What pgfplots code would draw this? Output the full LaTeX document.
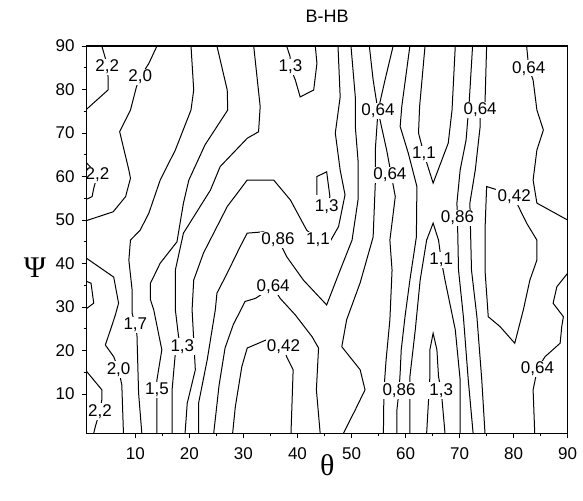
\documentclass[border=0pt]{standalone}
\usepackage{fontspec}
\setmainfont{Liberation Sans}
\newfontfamily\greekfont{Liberation Serif}
\usepackage{pgfplots}
\pgfplotsset{compat=1.18}

\begin{document}
\begin{tikzpicture}[x=1pt,y=1pt,
  cl/.style={black, line width=0.5pt, mark=none},
  lbl/.style={fill=white, inner sep=0.6pt, font=\fontsize{8.5}{10}\selectfont}]
% frame of the whole picture, axis box sits at the origin
\useasboundingbox (-43.35,-33.35) rectangle (248.15,216.65);
\begin{axis}[
  at={(0,0)}, anchor=south west,
  scale only axis, width=240.5pt, height=193.65pt,
  xmin=1, xmax=90, ymin=1, ymax=90,
  xtick={10,20,...,90}, ytick={10,20,...,90},
  minor x tick num=1, minor y tick num=1,
  tick align=outside, tick pos=left,
  major tick length=2.5pt, minor tick length=1.5pt,
  every tick/.style={black, line width=0.5pt},
  axis line style={line width=0.6pt},
  ticklabel style={font=\fontsize{8.5}{10}\selectfont},
  xticklabel style={yshift=-1.2pt},
  /pgf/number format/assume math mode=true,
  title={B-HB},
  title style={font=\fontsize{9}{11}\selectfont, yshift=2pt},
  clip mode=individual,
  axis on top,
]
% 2.2
\addplot[cl] coordinates {(3.8,90)(4.45,87.2)(4.8,85.2)(4.95,82.9)(4.95,79.9)(1,75.5)};
\addplot[cl] coordinates {(1,63.1)(2.6,61)(3,60.4)(2.3,57.3)(2.0,55.4)(1,54.8)};
\addplot[cl] coordinates {(1,35.9)(1.8,35.5)(2.3,30.9)(1,29.7)};
\addplot[cl] coordinates {(1,15.2)(3.8,11.0)(3.8,8.7)(3.4,6.0)(2.6,2.55)(2.3,1)};
% 2.0
\addplot[cl] coordinates {(14.0,90)(12.5,86.0)(10.9,82.9)(10.2,80.6)(9.1,75.3)(7.1,70.3)(8.8,61.5)(9.1,59.6)(8.2,55.4)(5.9,51.9)(1,49.9)};
\addplot[cl] coordinates {(1,41.2)(6.0,36.9)(6.9,30.9)(6.3,28.2)(5.7,25.9)(4.45,21.3)(6.0,18.6)(6.9,15.7)(7.5,12.1)(7.8,1)};
% 1.7
\addplot[cl] coordinates {(20.3,90)(20.8,79.9)(20.3,75.3)(17.4,66.1)(14.6,59.2)(12.5,51.6)(10.9,47.7)(9.1,45.4)(8.8,40.8)(9.4,34.0)(9.4,28.6)(10.0,25.9)(10.3,23.6)(10.6,10.3)(11.2,1)};
% 1.5
\addplot[cl] coordinates {(25.1,90)(27.0,79.9)(27.1,75.3)(22.9,67.3)(19.9,59.2)(18.9,53.9)(17.7,45.0)(14.6,40.1)(12.8,35.5)(12.8,31.7)(13.4,29.4)(14.9,20.2)(14.0,13.3)(14.0,11.0)(14.0,1)};
% 1.3
\addplot[cl] coordinates {(31.9,90)(33.1,76.1)(32.8,70.3)(30.7,68.8)(25.7,62.3)(23.9,56.9)(18.9,47.0)(17.4,38.5)(17.4,29.4)(18.0,23.2)(18.5,20.9)(17.4,19.4)(16.8,11.0)(16.8,1)};
\addplot[cl] coordinates {(38.0,90)(38.65,87.5)(38.65,85.2)(39.6,82.2)(40.5,78.3)(43.0,79.9)(43.6,86.0)(43.3,90)};
\addplot[cl] coordinates {(43.6,55.8)(43.6,60.0)(45.4,61.1)(46.0,55.4)(45.4,53.1)};
\addplot[cl] coordinates {(63.9,1)(64.5,14.0)(64.5,20.2)(65.1,24.0)(65.8,20.2)(66.1,14.0)(66.6,10.8)(67.3,1)};
% 1.1
\addplot[cl] coordinates {(19.2,1)(19.6,7.9)(21.1,15.6)(20.5,29.4)(20.8,36.2)(22.6,42.4)(27.0,53.1)(30.7,59.2)(35.6,59.2)(38.7,54.6)(41.7,47.7)(43.8,45.4)(46.0,45.0)(47.6,48.5)(48.8,55.8)(47.9,61.5)(47.0,70.0)(47.9,78.3)(47.5,90)};
\addplot[cl] coordinates {(63.6,90)(62.6,76.1)(62.4,70.0)(63.4,65.2)(65.1,58.5)(67.9,67.7)(68.6,75.3)(69.2,90)};
\addplot[cl] coordinates {(60.8,1)(60.8,14.0)(61.8,24.8)(62.7,36.2)(63.9,45.4)(65.1,49.3)(66.1,45.4)(66.6,40.8)(67.3,36.2)(69.2,24.8)(70.1,13.3)(70.1,1)};
% 0.86
\addplot[cl] coordinates {(21.7,1)(21.7,7.9)(23.3,17.9)(24.8,29.4)(25.1,33.2)(27.0,37.8)(29.4,43.9)(30.7,47.0)(33.7,47.3)(36.5,45.4)(38.0,41.6)(41.1,36.2)(45.4,30.5)(47.9,38.5)(50.1,45.4)(51.2,54.6)(51.2,63.8)(50.7,71.5)(50.7,78.3)(49.9,90)};
\addplot[cl] coordinates {(60.8,90)(59.3,76.1)(59.0,71.5)(60.5,65.4)(62.1,57.7)(62.0,46.1)(60.8,36.2)(59.9,27.8)(59.2,20.2)(59.0,14.9)(58.8,10.8)(58.4,6.4)(58.4,1)};
\addplot[cl] coordinates {(72.4,90)(71.8,77.6)(71.2,68.4)(70.1,61.5)(69.5,53.9)(69.6,50.5)(69.8,38.5)(70.7,27.8)(71.6,13.3)(72.5,1)};
% 0.64
\addplot[cl] coordinates {(24.5,1)(25.5,12.1)(26.6,20.6)(28.1,25.9)(30.3,31.3)(32.2,32.0)(35.5,34.6)(36.8,32.0)(39.6,28.2)(42.7,23.2)(43.9,20.6)(43.5,11.0)(44.2,1)};
\addplot[cl] coordinates {(53.3,90)(54.0,82.2)(54.9,75.1)(54.4,66.1)(54.4,58.5)(54.0,46.1)(51.6,35.6)(49.1,27.1)(48.2,20.9)(51.6,15.6)(52.5,11.0)(50.7,6.4)(48.5,1)};
\addplot[cl] coordinates {(57.7,90)(56.2,82.2)(54.9,75.1)(56.5,66.1)(58.1,55.4)(57.1,45.4)(57.5,38.5)(57.1,27.1)(56.4,17.9)(56.0,11.0)(55.9,1)};
\addplot[cl] coordinates {(75.0,90)(74.7,76.9)(73.8,75.3)(73.8,71.5)(72.9,61.5)(71.9,53.9)(72.2,38.5)(73.2,27.8)(74.1,13.3)(74.7,1)};
\addplot[cl] coordinates {(82.4,90)(82.8,84.9)(83.6,82.2)(84.3,75.3)(85.5,70.7)(84.3,66.1)(83.6,59.2)(84.3,53.9)(90,50.0)};
\addplot[cl] coordinates {(90,37.8)(88.0,34.7)(87.3,30.9)(89.2,27.8)(88.9,25.5)(88.6,21.7)(85.8,18.6)(84.4,15.8)(83.6,11.0)(83.9,1)};
% 0.42
\addplot[cl] coordinates {(28.0,1)(28.5,7.1)(29.7,16.3)(30.7,20.6)(34.3,22.5)(37.4,20.9)(38.0,18.6)(39.2,15.6)(38.8,1)};
\addplot[cl] coordinates {(80.1,55.3)(77.1,56.9)(75.0,57.7)(74.7,47.7)(74.7,38.5)(75.3,27.8)(77.5,25.5)(80.2,21.7)(81.8,29.4)(83.0,36.2)(84.3,40.8)(84.3,45.4)(82.4,49.3)(80.9,53.1)(80.1,55.3)};

% level labels
\node[lbl] at (axis cs:4.8,85.2) {2,2};
\node[lbl] at (axis cs:3,60.4) {2,2};
\node[lbl] at (axis cs:3.45,6.0) {2,2};
\node[lbl] at (axis cs:10.9,82.9) {2,0};
\node[lbl] at (axis cs:6.9,15.7) {2,0};
\node[lbl] at (axis cs:10.0,25.9) {1,7};
\node[lbl] at (axis cs:14.0,11.0) {1,5};
\node[lbl] at (axis cs:18.7,20.9) {1,3};
\node[lbl] at (axis cs:38.7,85.2) {1,3};
\node[lbl] at (axis cs:45.4,53.1) {1,3};
\node[lbl] at (axis cs:66.6,10.8) {1,3};
\node[lbl] at (axis cs:43.8,45.4) {1,1};
\node[lbl] at (axis cs:63.4,65.2) {1,1};
\node[lbl] at (axis cs:66.6,40.8) {1,1};
\node[lbl] at (axis cs:36.4,45.4) {0,86};
\node[lbl] at (axis cs:58.8,10.8) {0,86};
\node[lbl] at (axis cs:69.6,50.5) {0,86};
\node[lbl] at (axis cs:35.5,34.6) {0,64};
\node[lbl] at (axis cs:54.9,75.1) {0,64};
\node[lbl] at (axis cs:57.1,60.4) {0,64};
\node[lbl] at (axis cs:73.8,75.3) {0,64};
\node[lbl] at (axis cs:82.8,84.9) {0,64};
\node[lbl] at (axis cs:84.4,15.8) {0,64};
\node[lbl] at (axis cs:37.4,20.9) {0,42};
\node[lbl] at (axis cs:80.1,55.3) {0,42};

% axis labels
\node[font=\greekfont\fontsize{15}{17}\selectfont, yshift=-16pt] at (rel axis cs:0.5,0) {θ};
\node[font=\greekfont\fontsize{15}{17}\selectfont, xshift=-25.9pt] at (rel axis cs:0,0.427) {Ψ};
\end{axis}
\end{tikzpicture}
\end{document}
